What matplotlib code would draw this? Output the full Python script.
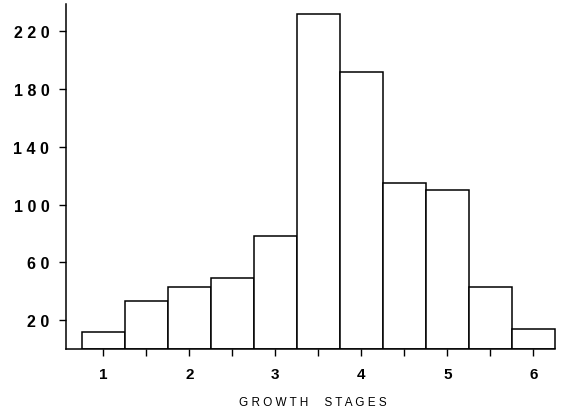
import numpy as np
import matplotlib.pyplot as plt

# growth stage bins (centres, width 0.5) and counts
stages = [1.0, 1.5, 2.0, 2.5, 3.0, 3.5, 4.0, 4.5, 5.0, 5.5, 6.0]
counts = [12, 33, 43, 49, 78, 232, 192, 115, 110, 43, 14]
yticks = [20, 60, 100, 140, 180, 220]
xticks_major = [1, 2, 3, 4, 5, 6]
xticks_minor = [1.5, 2.5, 3.5, 4.5, 5.5]

plt.rcParams['font.family'] = ['Liberation Sans', 'DejaVu Sans']

fig = plt.figure(figsize=(5.66, 4.10), dpi=100)
ax = fig.add_axes([66 / 566, 60 / 410, (560 - 66) / 566, 345 / 410])

ax.bar(stages, counts, width=0.5, align='center', facecolor='white',
       edgecolor='black', linewidth=1.1)

ax.set_xlim(0.566, 6.31)
ax.set_ylim(0, 239)

for s in ['top', 'right']:
    ax.spines[s].set_visible(False)
ax.spines['left'].set_linewidth(1.1)
ax.spines['bottom'].set_linewidth(1.1)
ax.spines['bottom'].set_bounds(0.566, 6.25)

ax.set_yticks(yticks)
ax.set_yticklabels([' '.join(str(v)) for v in yticks], fontsize=11.5, fontweight='bold')
ax.set_xticks(xticks_major)
ax.set_xticklabels([str(v) for v in xticks_major], fontsize=11, fontweight='bold')
ax.set_xticks(xticks_minor, minor=True)
ax.tick_params(axis='both', which='both', direction='out', length=5, width=1, color='black')
ax.tick_params(axis='x', which='major', pad=8)
ax.tick_params(axis='y', pad=7)

ax.set_xlabel('G R O W T H     S T A G E S', fontsize=8.5, labelpad=11)

fig.savefig('out.png', dpi=100)
